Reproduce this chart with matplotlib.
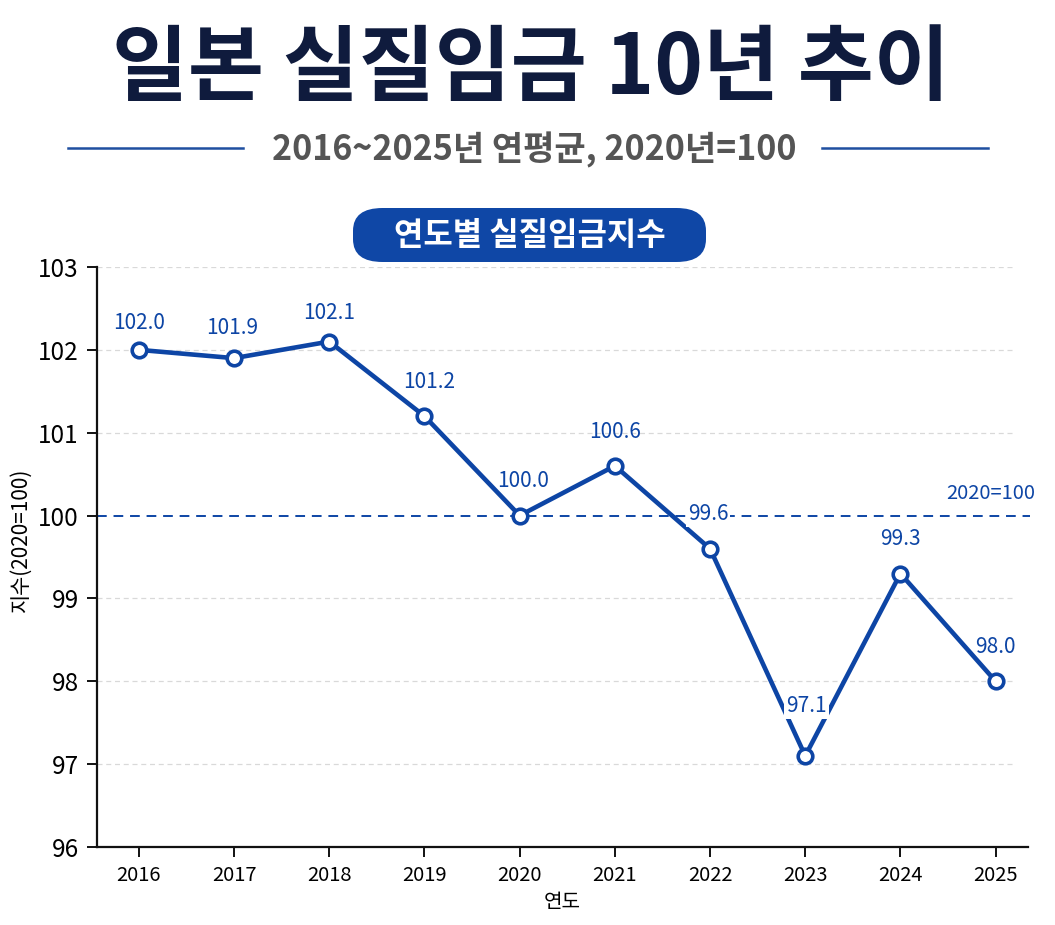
import matplotlib
matplotlib.use("Agg")
import matplotlib.pyplot as plt
from matplotlib.patches import FancyBboxPatch
from matplotlib.lines import Line2D

plt.rcParams['font.family'] = ['Noto Sans CJK KR', 'DejaVu Sans']

years = [2016, 2017, 2018, 2019, 2020, 2021, 2022, 2023, 2024, 2025]
values = [102.0, 101.9, 102.1, 101.2, 100.0, 100.6, 99.6, 97.1, 99.3, 98.0]
labels = ["102.0", "101.9", "102.1", "101.2", "100.0", "100.6", "99.6", "97.1", "99.3", "98.0"]
yticks = [96, 97, 98, 99, 100, 101, 102, 103]

title = "일본 실질임금 10년 추이"
subtitle = "2016~2025년 연평균, 2020년=100"
panel_title = "연도별 실질임금지수"

BLUE = "#0d45a5"
NAVY = "#0f1b3d"

fig = plt.figure(figsize=(10.55, 9.25), dpi=100)
fig.patch.set_facecolor("white")

# Titles
fig.text(0.503, 0.925, title, ha="center", va="center", fontsize=59.5,
         fontweight="black", color=NAVY)
fig.text(0.506, 0.838, subtitle, ha="center", va="center", fontsize=24.5,
         fontweight="bold", color="#555555")
fig.add_artist(Line2D([68/1055, 243/1055], [1-148/925]*2, color="#1f4fa0", lw=1.8))
fig.add_artist(Line2D([822/1055, 988/1055], [1-148/925]*2, color="#1f4fa0", lw=1.8))

# Pill
pill = FancyBboxPatch((353/1055, 1-262/925), (706-353)/1055, (262-208)/925,
                      boxstyle="round,pad=0,rounding_size=0.028",
                      transform=fig.transFigure, facecolor="#0f47a6",
                      edgecolor="none", mutation_aspect=925/1055)
fig.add_artist(pill)
fig.text(529.5/1055, 1-236/925, panel_title, ha="center", va="center",
         fontsize=23, fontweight="bold", color="white")

ax = fig.add_axes([97/1055, 1-847/925, (1028-97)/1055, (847-267)/925])
ax.set_xlim(2015.56, 2025.34)
ax.set_ylim(96, 103)

for y in yticks:
    if y != 100:
        ax.axhline(y, xmin=0, xmax=0.986, color="#d9d9d9", lw=0.9,
                   ls=(0, (4, 3)), zorder=1)
ax.axhline(100, xmin=0, xmax=1.002, color=BLUE, lw=1.4, ls=(0, (5, 3.5)),
           zorder=2, clip_on=False)
ax.text(2025.42, 100.14, "2020=100", ha="right", va="bottom", fontsize=14.5,
        color=BLUE)

ax.plot(years, values, color=BLUE, lw=3.3, zorder=3, solid_joinstyle="round")
ax.plot(years, values, ls="none", marker="o", ms=10.5, mfc="white",
        mec=BLUE, mew=2.6, zorder=4)

offsets = {2016: (0, 27), 2017: (-2, 30), 2018: (0, 29), 2019: (5, 34),
           2020: (3, 35), 2021: (0, 34), 2022: (-2, 35), 2023: (1, 50),
           2024: (0, 35), 2025: (0, 34)}
for x, v, lab in zip(years, values, labels):
    dx, dy = offsets[x]
    kw = {}
    if x in (2022, 2023):
        kw["bbox"] = dict(boxstyle="square,pad=0.1", fc="white", ec="none")
    ax.annotate(lab, (x, v), xytext=(dx * 0.72, dy * 0.72),
                textcoords="offset points", ha="center", va="center",
                fontsize=15, fontweight="medium", color=BLUE, zorder=5, **kw)

for s in ["top", "right"]:
    ax.spines[s].set_visible(False)
for s in ["left", "bottom"]:
    ax.spines[s].set_linewidth(1.6)
    ax.spines[s].set_color("#111111")

ax.set_yticks(yticks)
ax.set_yticklabels([str(t) for t in yticks], fontsize=17.5, fontweight="medium")
ax.set_xticks(years)
ax.set_xticklabels([str(y) for y in years], fontsize=14.5, fontweight="medium")
ax.tick_params(axis="both", length=7, width=1.4, color="#111111")
ax.tick_params(axis="y", pad=6)
ax.tick_params(axis="x", pad=6)

fig.text(21/1055, 1-540/925, "지수(2020=100)", rotation=90, ha="center",
         va="center", fontsize=15)
ax.set_xlabel("연도", fontsize=14.5, labelpad=4)

fig.savefig("out.png", dpi=100, facecolor="white")
